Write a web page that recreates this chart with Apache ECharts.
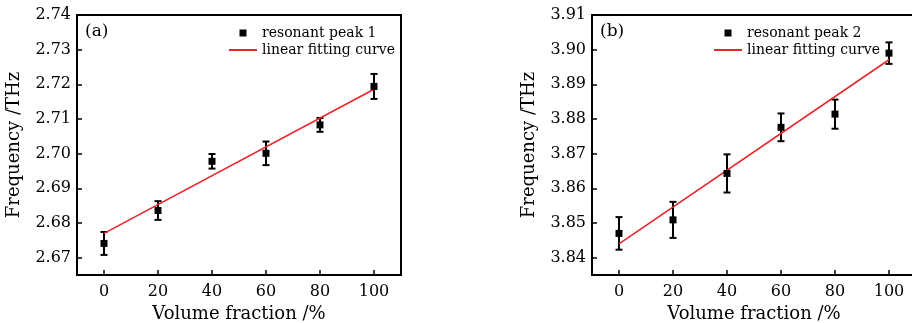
<!DOCTYPE html>
<html>
<head>
<meta charset="utf-8">
<script src="https://cdn.jsdelivr.net/npm/echarts@6/dist/echarts.min.js"></script>
<style>html,body{margin:0;padding:0;background:#fff}#c{width:912px;height:323px}</style>
</head>
<body>
<div id="c"></div>
<script>
// ---- data ----
var volumeFraction = [0, 20, 40, 60, 80, 100];
var peak1 = [2.6741, 2.6836, 2.6978, 2.7001, 2.7083, 2.7194];
var err1  = [0.0033, 0.0027, 0.0021, 0.0034, 0.0020, 0.0036];
var fit1X = [0, 100];
var fit1Y = [2.6770, 2.7186];
var peak2 = [3.8470, 3.8509, 3.8643, 3.8776, 3.8814, 3.8990];
var err2  = [0.0047, 0.0052, 0.0055, 0.0040, 0.0042, 0.0031];
var fit2X = [0, 100];
var fit2Y = [3.8440, 3.8971];
var xTicks = [0, 20, 40, 60, 80, 100];
var yTicksA = [2.67, 2.68, 2.69, 2.70, 2.71, 2.72, 2.73, 2.74];
var yTicksB = [3.84, 3.85, 3.86, 3.87, 3.88, 3.89, 3.90, 3.91];

var FONT = 'DejaVu Serif';
var INK = '#000';
var RED = '#e8262b';

function pts(xs, ys) { return xs.map(function (x, i) { return [x, ys[i]]; }); }
function errData(xs, ys, es) { return xs.map(function (x, i) { return [x, ys[i] - es[i], ys[i] + es[i]]; }); }

function errRender(params, api) {
  var x = api.value(0), lo = api.value(1), hi = api.value(2);
  var pTop = api.coord([x, hi]);
  var pBot = api.coord([x, lo]);
  var cap = 3.5;
  var st = { stroke: INK, lineWidth: 2 };
  return {
    type: 'group',
    children: [
      { type: 'line', shape: { x1: pTop[0], y1: pTop[1], x2: pBot[0], y2: pBot[1] }, style: st },
      { type: 'line', shape: { x1: pTop[0] - cap, y1: pTop[1], x2: pTop[0] + cap, y2: pTop[1] }, style: st },
      { type: 'line', shape: { x1: pBot[0] - cap, y1: pBot[1], x2: pBot[0] + cap, y2: pBot[1] }, style: st }
    ]
  };
}

function xAxisCfg(idx) {
  return {
    type: 'value', gridIndex: idx, min: -10, max: 110,
    name: 'Volume fraction /%', nameLocation: 'middle', nameGap: 28,
    nameTextStyle: { fontFamily: FONT, fontSize: 18, color: INK },
    axisLine: { show: true, onZero: false, lineStyle: { color: INK, width: 2 } },
    axisTick: { show: true, inside: true, length: 5, lineStyle: { color: INK, width: 1.5 }, customValues: xTicks },
    axisLabel: { fontFamily: FONT, fontSize: 16, color: INK, margin: 9, customValues: xTicks },
    splitLine: { show: false }
  };
}
function yAxisCfg(idx, min, max, ticks) {
  return {
    type: 'value', gridIndex: idx, min: min, max: max,
    name: 'Frequency /THz', nameLocation: 'middle', nameGap: 54,
    nameTextStyle: { fontFamily: FONT, fontSize: 18, color: INK },
    axisLine: { show: true, onZero: false, lineStyle: { color: INK, width: 2 } },
    axisTick: { show: true, inside: true, length: 5, lineStyle: { color: INK, width: 1.5 }, customValues: ticks },
    axisLabel: { fontFamily: FONT, fontSize: 16, color: INK, margin: 6, customValues: ticks,
      formatter: function (v) { return v.toFixed(2); } },
    splitLine: { show: false }
  };
}
function legendCfg(left, peakName) {
  return {
    left: left, top: 26, orient: 'vertical', padding: 0, itemGap: 3,
    itemWidth: 28, itemHeight: 7, symbolKeepAspect: true,
    textStyle: { fontFamily: FONT, fontSize: 14, color: INK, lineHeight: 14 },
    data: [
      { name: peakName, icon: 'path://M0,0h10v10h-10z', itemStyle: { color: INK, opacity: 1 } },
      { name: 'linear fitting curve', icon: 'path://M0,0h56v4h-56z', itemStyle: { color: RED, opacity: 1, borderWidth: 0 } }
    ]
  };
}

var chart = echarts.init(document.getElementById('c'), null, { renderer: 'canvas' });
chart.setOption({
  animation: false,
  backgroundColor: '#fff',
  title: [
    { text: '(a)', left: 85, top: 23, padding: 0, textStyle: { fontFamily: FONT, fontSize: 17, fontWeight: 'normal', color: INK } },
    { text: '(b)', left: 600, top: 23, padding: 0, textStyle: { fontFamily: FONT, fontSize: 17, fontWeight: 'normal', color: INK } }
  ],
  legend: [legendCfg(229, 'resonant peak 1'), legendCfg(714, 'resonant peak 2')],
  grid: [
    { left: 77, top: 15, width: 324, height: 260, outerBoundsMode: 'none', containLabel: false,
      show: true, borderColor: INK, borderWidth: 2, backgroundColor: 'transparent' },
    { left: 592, top: 15, width: 324, height: 260, outerBoundsMode: 'none', containLabel: false,
      show: true, borderColor: INK, borderWidth: 2, backgroundColor: 'transparent' }
  ],
  xAxis: [xAxisCfg(0), xAxisCfg(1)],
  yAxis: [yAxisCfg(0, 2.665, 2.74, yTicksA), yAxisCfg(1, 3.835, 3.91, yTicksB)],
  series: [
    { type: 'custom', name: 'err1', xAxisIndex: 0, yAxisIndex: 0, renderItem: errRender,
      encode: { x: 0, y: [1, 2] }, data: errData(volumeFraction, peak1, err1), z: 2 },
    { type: 'line', name: 'linear fitting curve', xAxisIndex: 0, yAxisIndex: 0, data: pts(fit1X, fit1Y),
      symbol: 'none', showSymbol: false, lineStyle: { color: RED, width: 1.6 }, itemStyle: { color: RED }, z: 3 },
    { type: 'scatter', name: 'resonant peak 1', xAxisIndex: 0, yAxisIndex: 0, data: pts(volumeFraction, peak1),
      symbol: 'rect', symbolSize: 7, itemStyle: { color: INK, opacity: 1 }, z: 4 },
    { type: 'custom', name: 'err2', xAxisIndex: 1, yAxisIndex: 1, renderItem: errRender,
      encode: { x: 0, y: [1, 2] }, data: errData(volumeFraction, peak2, err2), z: 2 },
    { type: 'line', name: 'linear fitting curve', xAxisIndex: 1, yAxisIndex: 1, data: pts(fit2X, fit2Y),
      symbol: 'none', showSymbol: false, lineStyle: { color: RED, width: 1.6 }, itemStyle: { color: RED }, z: 3 },
    { type: 'scatter', name: 'resonant peak 2', xAxisIndex: 1, yAxisIndex: 1, data: pts(volumeFraction, peak2),
      symbol: 'rect', symbolSize: 7, itemStyle: { color: INK, opacity: 1 }, z: 4 }
  ]
});
</script>
</body>
</html>
